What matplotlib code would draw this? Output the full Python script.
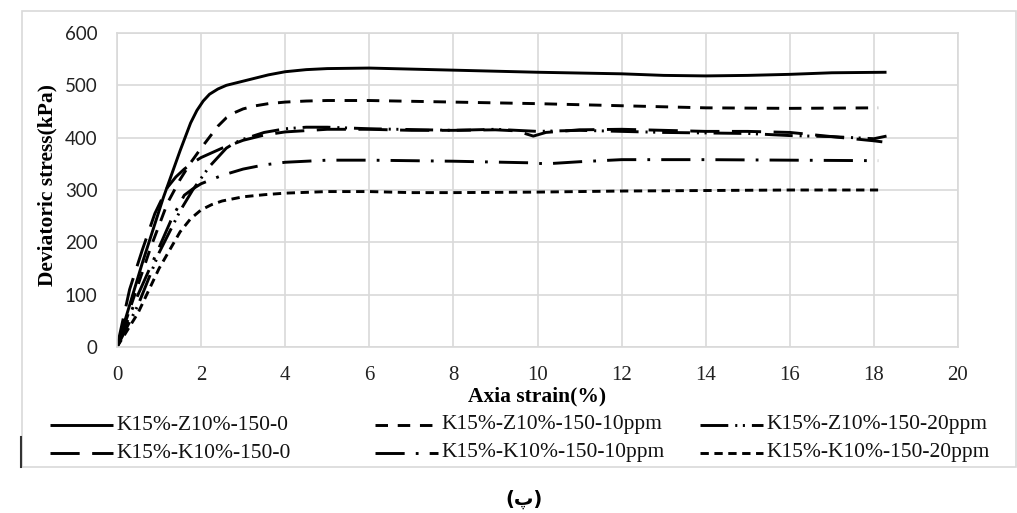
import matplotlib
matplotlib.use("Agg")
import matplotlib.pyplot as plt
from matplotlib.lines import Line2D
from matplotlib.patches import Rectangle

plt.rcParams["lines.scale_dashes"] = False

# Series names
labels = [
    "K15%-Z10%-150-0",
    "K15%-Z10%-150-10ppm",
    "K15%-Z10%-150-20ppm",
    "K15%-K10%-150-0",
    "K15%-K10%-150-10ppm",
    "K15%-K10%-150-20ppm",
]

# Axial strain (%) and deviatoric stress (kPa) for each test
z_0_x = [0, 0.3, 0.6, 0.9, 1.1, 1.3, 1.5, 1.75, 1.9, 2.05, 2.2, 2.4, 2.6, 2.9, 3.2, 3.6, 4, 4.5, 5, 6,
         7, 8, 10, 12, 13, 14, 15, 16, 17, 18.3]
z_0_y = [0, 80, 160, 235, 285, 330, 375, 428, 452, 470, 483, 493, 500, 506, 512, 520, 526, 530, 532, 533,
         531, 529, 525, 522, 519, 518, 519, 521, 524, 525]

z_10_x = [0, 0.4, 0.8, 1.2, 1.5, 1.75, 2.0, 2.2, 2.4, 2.6, 2.8, 3.0, 3.3, 3.6, 4, 4.5, 5, 6, 8, 10, 12,
          14, 16, 18.1]
z_10_y = [0, 95, 190, 275, 320, 352, 380, 401, 422, 438, 448, 455, 461, 465, 468, 470, 471, 471, 468, 465,
          461, 457, 456, 457]

z_20_x = [0, 0.5, 1.0, 1.5, 1.8, 2.2, 2.6, 2.8, 3, 3.5, 4, 4.5, 5, 6, 8, 9, 10, 11, 12, 13, 14, 15, 16,
          17, 18, 18.3]
z_20_y = [0, 80, 180, 260, 300, 345, 380, 390, 397, 410, 417, 420, 420, 417, 414, 416, 412, 414, 412, 410,
          409, 408, 404, 402, 398, 403]

k_0_x = [0, 0.3, 0.6, 0.9, 1.2, 1.4, 1.6, 1.8, 2.0, 2.5, 3, 3.5, 4, 5, 6, 7, 8, 9, 9.5, 9.9, 10.2, 11,
         12, 13, 14, 15, 16, 17, 18, 18.2]
k_0_y = [0, 110, 185, 255, 305, 325, 340, 352, 362, 380, 395, 405, 411, 416, 416, 414, 414, 415, 413, 403,
         410, 415, 416, 414, 412, 412, 410, 402, 394, 392]

k_10_x = [0, 0.5, 1, 1.3, 1.6, 1.8, 2, 2.5, 3, 3.5, 4, 5, 6, 8, 9.8, 10.2, 11, 12, 14, 16, 18.1]
k_10_y = [0, 100, 190, 245, 290, 302, 312, 328, 340, 348, 353, 357, 357, 355, 352, 350, 354, 358, 358, 357,
          356]

k_20_x = [0, 0.5, 1, 1.5, 1.75, 2, 2.25, 2.5, 3, 3.5, 4, 5, 6, 7, 8, 10, 12, 14, 16, 18, 18.1]
k_20_y = [0, 65, 150, 220, 245, 262, 272, 279, 287, 291, 294, 297, 297, 295, 295, 296, 298, 299, 300, 300,
          300]

xs = [z_0_x, z_10_x, z_20_x, k_0_x, k_10_x, k_20_x]
ys = [z_0_y, z_10_y, z_20_y, k_0_y, k_10_y, k_20_y]

x_ticks = [0, 2, 4, 6, 8, 10, 12, 14, 16, 18, 20]
y_ticks = [0, 100, 200, 300, 400, 500, 600]

# Line styles (dash patterns in points)
styles = [
    "-",
    (0, (9, 7)),
    (0, (20, 5, 1.5, 4, 1.5, 5)),
    (0, (21, 9)),
    (0, (21, 8, 2, 8)),
    (0, (6, 4)),
]

W, H = 1017, 513
fig = plt.figure(figsize=(W / 100, H / 100), dpi=100)
ax = fig.add_axes([117 / W, 1 - 347 / H, (958 - 117) / W, (347 - 33) / H])

grid_c = "#d9d9d9"
for x, y, ls in zip(xs, ys, styles):
    ax.plot(x, y, color="black", lw=2.1, linestyle=ls, solid_capstyle="butt",
            dash_capstyle="butt", solid_joinstyle="round", dash_joinstyle="round")

ax.set_xlim(0, 20)
ax.set_ylim(0, 600)
ax.set_xticks(x_ticks)
ax.set_yticks(y_ticks)
ax.set_xticklabels([str(v) for v in x_ticks], family="Liberation Serif", fontsize=15)
ax.set_yticklabels([str(v) for v in y_ticks], family="Lato", fontsize=13.5)
ax.tick_params(axis="x", length=0, pad=14, colors="#222222")
ax.tick_params(axis="y", length=0, pad=14, colors="#222222")
ax.grid(True, color=grid_c, lw=1.2)
ax.set_axisbelow(True)
for s in ax.spines.values():
    s.set_color(grid_c)
    s.set_linewidth(1.2)

ax.set_xlabel("Axia strain(%)", family="Liberation Serif", fontweight="bold",
              fontsize=15.5, labelpad=1)
fig.text(47 / W, 1 - 185 / H, "Deviatoric stress(kPa)", family="Liberation Serif",
         fontweight="bold", fontsize=15.5, rotation=90, ha="center", va="center")

# Legend laid out in three columns, two rows
col_x = [50, 375, 700]
row_y = [425, 453]
for i, label in enumerate(labels):
    r, c = divmod(i, 3)
    x0 = col_x[c]
    yy = 1 - row_y[r] / H
    fig.add_artist(Line2D([x0 / W, (x0 + 63) / W], [yy, yy], color="black", lw=2.1,
                          linestyle=styles[i], transform=fig.transFigure,
                          solid_capstyle="butt", dash_capstyle="butt"))
    fig.text((x0 + 66) / W, yy, label, family="Liberation Serif", fontsize=15.5,
             ha="left", va="center", color="#111111")

# Chart frame
fig.add_artist(Rectangle((22 / W, 1 - 467 / H), (1016 - 22) / W, (467 - 11) / H,
                         transform=fig.transFigure, fill=False, edgecolor=grid_c, lw=1.2))
fig.add_artist(Line2D([21 / W, 21 / W], [1 - 437 / H, 1 - 467 / H], color="#333333",
                      lw=1.5, transform=fig.transFigure))

fig.text(524 / W, 1 - 499 / H, "(پ)", family=["DejaVu Sans"], fontweight="bold",
         fontsize=14, ha="center", va="center")

fig.savefig("out.png", dpi=100)
